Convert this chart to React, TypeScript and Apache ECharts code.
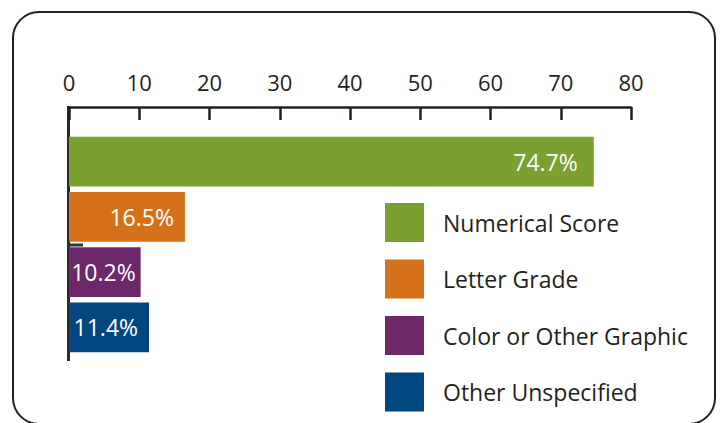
import React, { useEffect, useRef } from "react";
import * as echarts from "echarts";

const categories = ["Numerical Score", "Letter Grade", "Color or Other Graphic", "Other Unspecified"];
const values = [74.7, 16.5, 10.2, 11.4];
const colors = ["#7aa12f", "#d4711a", "#6d2869", "#00467f"];
const labelDistances = [16, 11, 5, 11];
const xTicks = { min: 0, max: 80, interval: 10 };

const FONT = "'Open Sans', sans-serif";

export default function App() {
  const ref = useRef<HTMLDivElement>(null);
  useEffect(() => {
    document.body.style.margin = "0";
    const chart = echarts.init(ref.current!, null, { renderer: "svg" });
    const series = categories.map((name, i) => ({
      name,
      type: "bar",
      stack: "all",
      barCategoryGap: "9.6%",
      itemStyle: { color: colors[i] },
      data: categories.map((_, j) => (j === i ? values[j] : "-")),
      label: {
        show: true,
        position: "insideRight",
        distance: labelDistances[i],
        color: "#ffffff",
        fontSize: 23,
        fontFamily: FONT,
        formatter: (p: any) => `${p.value}%`,
      },
    }));
    chart.setOption({
      animation: false,
      backgroundColor: "#ffffff",
      grid: { left: 69, right: 90, top: 134, bottom: 68 },
      xAxis: {
        type: "value",
        position: "top",
        offset: 27,
        min: xTicks.min,
        max: xTicks.max,
        interval: xTicks.interval,
        axisLine: { show: true, lineStyle: { color: "#231f20", width: 2.5 } },
        axisTick: { show: true, inside: true, length: 13, lineStyle: { color: "#231f20", width: 2.5 } },
        splitLine: { show: false },
        axisLabel: { fontSize: 22, color: "#231f20", fontFamily: FONT, margin: 14 },
      },
      yAxis: {
        type: "category",
        inverse: true,
        data: categories,
        axisLine: { show: false },
        axisTick: { show: false },
        axisLabel: { show: false },
      },
      legend: {
        data: categories,
        orient: "vertical",
        left: 385,
        top: 203,
        padding: 0,
        itemWidth: 39,
        itemHeight: 39,
        itemGap: 17.5,
        icon: "rect",
        selectedMode: false,
        textStyle: { fontSize: 23, color: "#231f20", fontFamily: FONT, padding: [0, 0, 0, 14] },
      },
      graphic: [
        {
          type: "rect",
          shape: { x: 13, y: 12, width: 702, height: 412, r: 26 },
          style: { fill: "none", stroke: "#231f20", lineWidth: 2 },
          silent: true,
        },
        {
          type: "line",
          shape: { x1: 68.5, y1: 106, x2: 68.5, y2: 361 },
          style: { stroke: "#2a2a2a", lineWidth: 3 },
          silent: true,
        },
        {
          type: "line",
          shape: { x1: 68, y1: 245, x2: 83, y2: 245 },
          style: { stroke: "#333333", lineWidth: 3 },
          silent: true,
        },
      ],
      series,
    });
    return () => chart.dispose();
  }, []);
  return <div ref={ref} style={{ width: 721, height: 423 }} />;
}
